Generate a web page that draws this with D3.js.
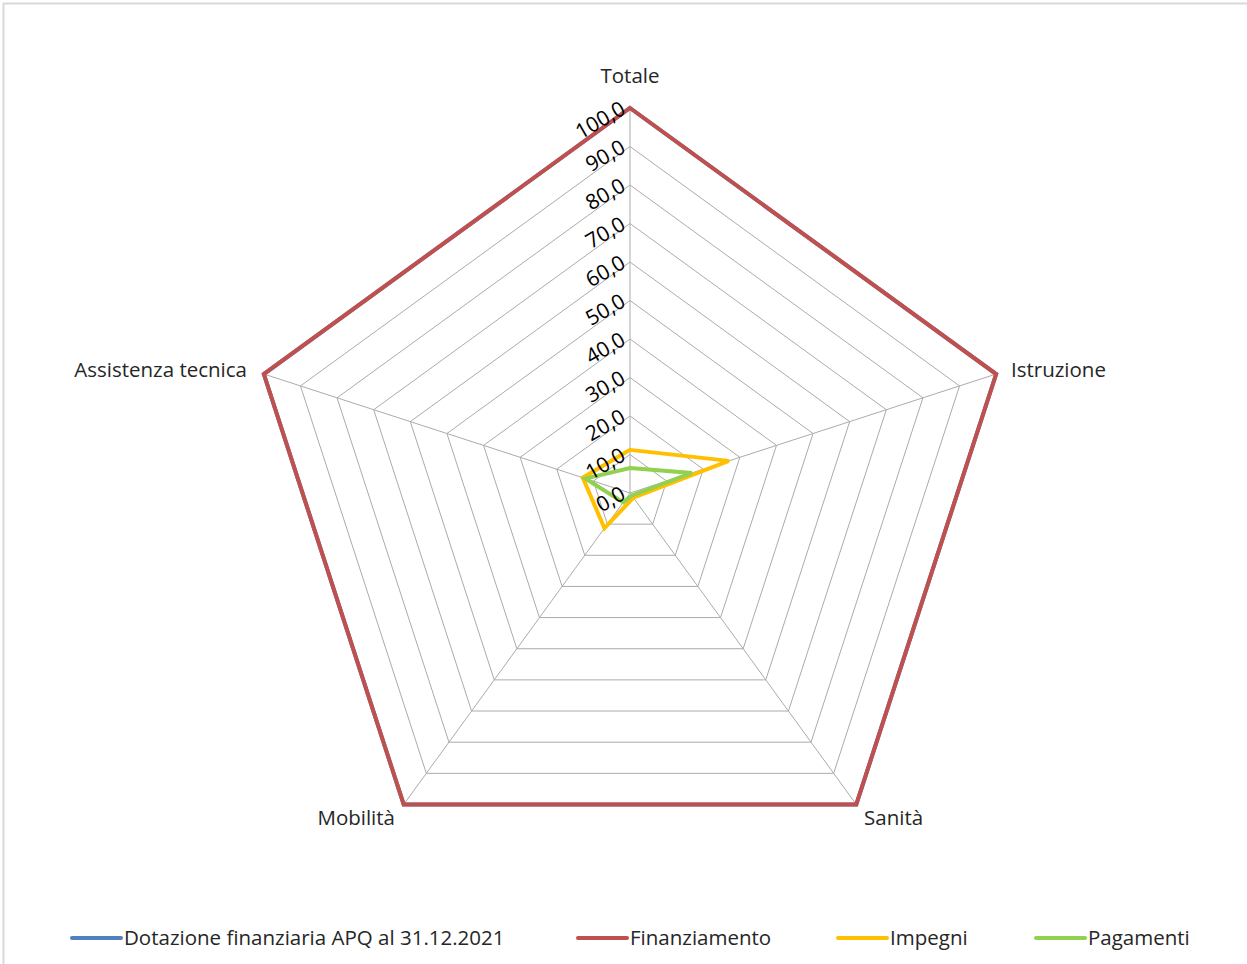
<!DOCTYPE html>
<html><head><meta charset="utf-8">
<script src="https://cdn.jsdelivr.net/npm/d3@7/dist/d3.min.js"></script>
<style>
body{margin:0;background:#fff;}
svg{display:block;font-family:"Open Sans","Noto Sans",sans-serif;}
</style></head>
<body><svg id="c" width="1247" height="964"></svg>
<script>
const categories = ["Totale","Istruzione","Sanità","Mobilità","Assistenza tecnica"];
const seriesNames = ["Dotazione finanziaria APQ al 31.12.2021","Finanziamento","Impegni","Pagamenti"];
const dotazione = [100,100,100,100,100];
const finanziamento = [100,100,100,100,100];
const impegni = [11.2,27.0,1.5,11.3,12.9];
const pagamenti = [6.5,16.9,0.8,3.0,12.2];
const tickValues = [0,10,20,30,40,50,60,70,80,90,100];
const colors = ["#4f81bd","#c0504d","#ffc000","#92d050"];

const svg = d3.select("#c");
const cx = 630, cy = 493, R = 385;
const r = d3.scaleLinear().domain([0,100]).range([0,R]);
const ang = d3.scaleLinear().domain([0,categories.length]).range([0,2*Math.PI]);
const pt = (i,v)=>[cx + r(v)*Math.sin(ang(i)), cy - r(v)*Math.cos(ang(i))];

// frame
svg.append("path").attr("d","M3.5,964 V3.5 H1247").attr("fill","none").attr("stroke","#d9d9d9").attr("stroke-width",2);

const g = svg.append("g");
// rings
tickValues.filter(t=>t>0).forEach(t=>{
  g.append("path").attr("d", d3.line()(categories.map((c,i)=>pt(i,t)))+"Z")
   .attr("fill","none").attr("stroke","#ababab").attr("stroke-width",1);
});
// spokes
categories.forEach((c,i)=>{
  const p = pt(i,100);
  g.append("line").attr("x1",cx).attr("y1",cy).attr("x2",p[0]).attr("y2",p[1])
   .attr("stroke","#ababab").attr("stroke-width",1);
});
// series
const data = [dotazione, finanziamento, impegni, pagamenti];
data.forEach((s,k)=>{
  g.append("path").attr("d", d3.line()(s.map((v,i)=>pt(i,v)))+"Z")
   .attr("fill","none").attr("stroke",colors[k]).attr("stroke-width",4).attr("stroke-linejoin","miter");
});
// tick labels
tickValues.forEach(t=>{
  const p = pt(0,t);
  g.append("text").attr("transform",`translate(${p[0]-3},${p[1]+5}) rotate(-30)`)
   .attr("text-anchor","end").attr("font-size",21).attr("fill","#000")
   .text(d3.format(".1f")(t).replace(".",","));
});
// category labels
const labelPos = [
  {x:630,y:83,a:"middle"},
  {x:1011,y:377,a:"start"},
  {x:864,y:825,a:"start"},
  {x:395,y:825,a:"end"},
  {x:247,y:377,a:"end"}
];
categories.forEach((c,i)=>{
  g.append("text").attr("x",labelPos[i].x).attr("y",labelPos[i].y).attr("text-anchor",labelPos[i].a)
   .attr("font-size",20.5).attr("fill","#262626").text(c);
});
// legend
const legX = [72,578,838,1036];
seriesNames.forEach((n,k)=>{
  const lg = svg.append("g").attr("transform",`translate(${legX[k]},938)`);
  lg.append("line").attr("x1",0).attr("x2",49).attr("y1",0).attr("y2",0)
    .attr("stroke",colors[k]).attr("stroke-width",4).attr("stroke-linecap","round");
  lg.append("text").attr("x",52).attr("y",7).attr("font-size",20.5).attr("fill","#262626").text(n);
});
</script></body></html>
